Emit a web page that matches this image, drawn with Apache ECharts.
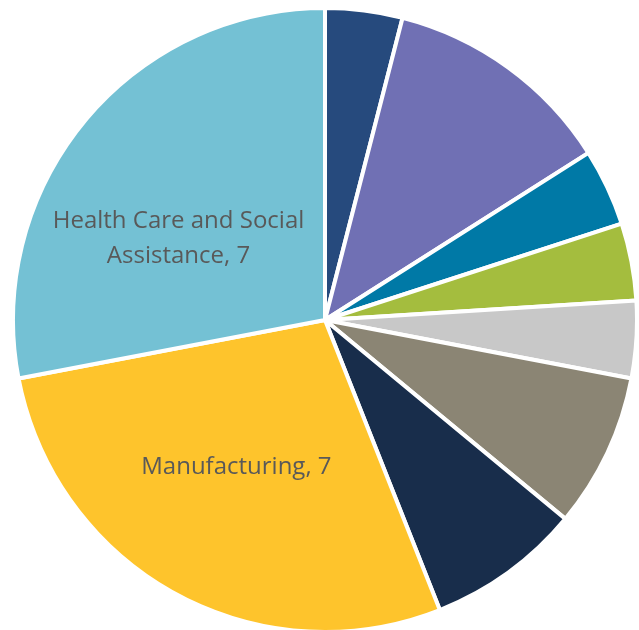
<!DOCTYPE html>
<html>
<head>
<meta charset="UTF-8">
<title>Pie</title>
<style>
html,body{margin:0;padding:0;background:#fff;}
#main{width:639px;height:630px;}
</style>
</head>
<body>
<div id="main"></div>
<script src="https://cdn.jsdelivr.net/npm/echarts@6/dist/echarts.min.js"></script>
<script>
// sectors, clockwise from 12 o'clock
var names = ['Sector A','Sector B','Sector C','Sector D','Sector E','Sector F','Sector G','Manufacturing','Health Care and Social\nAssistance'];
var values = [1, 3, 1, 1, 1, 2, 2, 7, 7];
var colors = ['#264a7d','#7070b4','#0079a6','#a4bd3e','#c8c8c8','#8b8574','#182d4b','#fec42c','#74c1d4'];
var shown = [false,false,false,false,false,false,false,true,true];

var items = [];
for (var i = 0; i < values.length; i++) {
	var it = { name: names[i], value: values[i], itemStyle: { color: colors[i] } };
	if (shown[i]) {
		it.label = { show: true };
		if (i == 8) it.label.offset = [-24, 20];
		if (i == 7) it.label.offset = [-12, 8];
	} else {
		it.label = { show: false };
	}
	items.push(it);
}

var myChart = echarts.init(document.getElementById('main'));
myChart.setOption({
	animation: false,
	series: [{
		type: 'pie',
		center: [325, 320],
		radius: [0, 312],
		startAngle: 90,
		clockwise: true,
		itemStyle: { borderColor: '#fff', borderWidth: 4 },
		label: {
			position: 'inside',
			formatter: '{b}, {c}',
			color: '#595959',
			fontSize: 24,
			fontFamily: 'Open Sans',
			lineHeight: 35,
			align: 'center'
		},
		labelLine: { show: false },
		emphasis: { disabled: true },
		data: items
	}]
});
</script>
</body>
</html>
